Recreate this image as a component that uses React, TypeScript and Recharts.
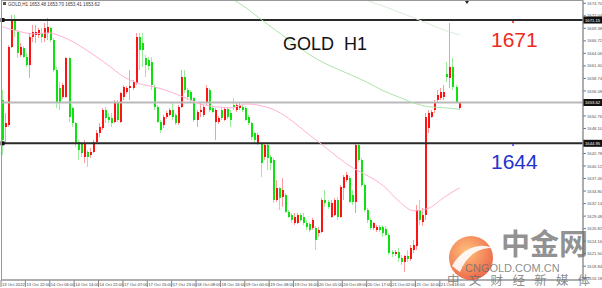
import React from "react";
import { Bar, ComposedChart, Line, ReferenceDot, ReferenceLine, XAxis, YAxis } from "recharts";

// GOLD H1, 13–21 Oct 2022. One row per hourly bar: [open, high, low, close]
const CANDLES: number[][] = [
  [1654.2, 1656.3, 1642.5, 1645.7], [1648.4, 1651.4, 1645.0, 1649.3], [1648.8, 1665.8, 1648.4, 1665.4],
  [1665.4, 1672.2, 1665.2, 1671.2], [1671.2, 1672.2, 1667.5, 1669.0], [1668.6, 1669.0, 1663.1, 1664.1],
  [1663.7, 1666.3, 1663.3, 1665.4], [1665.2, 1665.6, 1663.1, 1663.3], [1663.3, 1664.1, 1661.2, 1661.6],
  [1661.6, 1668.4, 1658.8, 1667.5], [1667.5, 1670.1, 1666.5, 1668.6], [1668.0, 1670.1, 1666.3, 1668.6],
  [1668.0, 1669.5, 1667.3, 1669.0], [1668.4, 1669.5, 1666.3, 1667.5], [1667.3, 1670.5, 1666.5, 1669.5],
  [1668.4, 1671.6, 1666.9, 1669.7], [1669.5, 1669.7, 1666.5, 1666.9], [1666.9, 1667.3, 1660.1, 1660.5],
  [1660.5, 1661.2, 1652.5, 1653.7], [1656.7, 1658.0, 1652.0, 1653.7], [1654.8, 1657.8, 1654.4, 1657.3],
  [1654.8, 1663.3, 1654.6, 1663.1], [1663.1, 1663.3, 1649.5, 1650.5], [1652.5, 1652.7, 1648.4, 1649.3],
  [1649.3, 1649.5, 1644.2, 1645.0], [1645.2, 1645.7, 1641.4, 1643.5], [1645.0, 1645.2, 1642.0, 1642.9],
  [1642.0, 1645.7, 1640.8, 1645.0], [1643.1, 1643.5, 1639.9, 1642.0], [1642.5, 1644.0, 1641.8, 1643.1],
  [1643.1, 1645.7, 1642.9, 1645.2], [1645.2, 1647.8, 1645.0, 1647.1], [1647.1, 1649.3, 1646.3, 1648.4],
  [1648.2, 1652.5, 1647.8, 1652.0], [1652.0, 1652.7, 1649.3, 1650.3], [1650.5, 1651.4, 1649.3, 1649.9],
  [1650.3, 1651.4, 1648.4, 1649.3], [1649.5, 1654.2, 1649.3, 1653.7], [1653.7, 1654.2, 1649.5, 1649.9],
  [1649.5, 1655.9, 1649.3, 1655.6], [1654.8, 1657.3, 1654.2, 1656.9], [1655.9, 1657.1, 1655.4, 1656.7],
  [1656.7, 1660.5, 1654.2, 1657.1], [1656.7, 1658.4, 1656.3, 1658.0], [1657.8, 1668.4, 1657.3, 1667.5],
  [1667.5, 1668.4, 1660.5, 1664.8], [1666.3, 1668.4, 1661.2, 1664.8], [1663.1, 1663.7, 1659.0, 1661.6],
  [1662.7, 1663.3, 1660.5, 1661.4], [1662.2, 1663.3, 1656.3, 1657.3], [1656.9, 1657.3, 1652.0, 1652.7],
  [1652.7, 1653.1, 1649.3, 1649.5], [1649.5, 1649.9, 1647.1, 1647.8], [1648.8, 1651.0, 1648.2, 1650.5],
  [1650.5, 1651.8, 1650.1, 1651.4], [1651.0, 1652.5, 1650.8, 1652.0], [1652.0, 1653.5, 1649.9, 1650.5],
  [1651.0, 1651.4, 1648.8, 1649.3], [1649.3, 1653.1, 1648.8, 1652.7], [1652.7, 1660.5, 1652.5, 1659.0],
  [1659.0, 1660.5, 1655.6, 1656.3], [1656.3, 1656.7, 1654.2, 1654.8], [1655.9, 1656.3, 1653.7, 1654.2],
  [1654.6, 1654.8, 1649.5, 1649.9], [1649.9, 1652.0, 1648.4, 1651.6], [1651.6, 1653.5, 1650.5, 1652.0],
  [1651.0, 1653.1, 1650.5, 1652.7], [1653.5, 1657.3, 1653.1, 1656.7], [1656.3, 1656.7, 1651.6, 1652.0],
  [1652.5, 1652.7, 1651.4, 1651.6], [1649.5, 1652.5, 1645.7, 1652.0], [1649.5, 1650.8, 1649.1, 1650.3],
  [1652.0, 1652.5, 1649.9, 1650.3], [1649.9, 1652.7, 1649.7, 1652.2], [1652.2, 1652.7, 1650.1, 1650.5],
  [1651.4, 1652.0, 1648.4, 1649.9], [1653.1, 1654.6, 1652.0, 1652.7], [1652.0, 1653.5, 1651.6, 1653.1],
  [1652.5, 1653.7, 1652.0, 1653.1], [1652.7, 1653.1, 1651.6, 1652.0], [1652.5, 1652.9, 1649.7, 1649.9],
  [1650.5, 1651.0, 1648.8, 1649.3], [1649.3, 1649.5, 1645.7, 1646.3], [1647.1, 1647.4, 1645.0, 1645.7],
  [1645.0, 1647.1, 1644.6, 1646.7], [1645.0, 1645.2, 1637.8, 1640.8], [1642.0, 1645.0, 1641.4, 1644.6],
  [1644.6, 1645.0, 1639.3, 1641.8], [1642.0, 1642.5, 1639.3, 1640.8], [1641.4, 1641.8, 1632.3, 1632.9],
  [1632.9, 1637.2, 1632.5, 1635.5], [1635.5, 1635.7, 1630.8, 1633.3], [1633.5, 1637.6, 1631.4, 1635.0],
  [1634.0, 1634.4, 1630.1, 1630.4], [1630.4, 1630.8, 1629.1, 1629.3], [1629.7, 1630.1, 1628.0, 1628.7],
  [1628.0, 1630.1, 1627.6, 1629.3], [1628.0, 1630.1, 1627.8, 1629.7], [1629.7, 1630.1, 1628.2, 1628.7],
  [1629.3, 1630.1, 1627.6, 1628.0], [1628.0, 1628.7, 1626.5, 1627.2], [1627.8, 1628.2, 1626.1, 1626.5],
  [1627.0, 1629.1, 1626.5, 1628.7], [1627.0, 1627.4, 1622.3, 1624.4], [1625.9, 1627.2, 1625.0, 1626.5],
  [1626.1, 1633.3, 1625.9, 1632.9], [1632.9, 1635.0, 1631.4, 1632.3], [1632.5, 1632.9, 1631.0, 1631.4],
  [1629.3, 1632.9, 1629.1, 1632.3], [1629.7, 1633.3, 1629.5, 1632.9], [1632.9, 1633.5, 1628.7, 1629.3],
  [1629.3, 1636.1, 1629.1, 1635.7], [1635.5, 1638.2, 1632.9, 1637.8], [1637.2, 1638.9, 1636.7, 1638.2],
  [1637.6, 1638.0, 1632.3, 1632.5], [1634.0, 1635.0, 1631.8, 1632.5], [1632.5, 1645.0, 1630.1, 1644.6],
  [1644.6, 1645.2, 1641.0, 1641.4], [1641.4, 1641.8, 1635.7, 1636.1], [1636.1, 1636.5, 1630.4, 1630.8],
  [1630.8, 1631.2, 1628.0, 1628.7], [1628.7, 1629.1, 1626.5, 1627.0], [1627.0, 1628.2, 1626.5, 1628.0],
  [1626.5, 1627.6, 1626.1, 1627.2], [1627.2, 1627.6, 1626.1, 1626.5], [1627.2, 1627.6, 1625.0, 1625.9],
  [1626.7, 1627.4, 1625.3, 1625.5], [1625.5, 1625.9, 1621.2, 1621.6], [1621.9, 1622.3, 1620.8, 1621.4],
  [1621.4, 1622.3, 1621.0, 1621.9], [1621.9, 1622.7, 1619.7, 1620.6], [1620.6, 1621.2, 1619.1, 1619.7],
  [1619.7, 1621.2, 1617.6, 1621.0], [1621.0, 1622.3, 1619.7, 1620.4], [1620.4, 1623.3, 1619.9, 1622.7],
  [1622.3, 1624.4, 1621.6, 1623.3], [1623.1, 1631.8, 1622.3, 1630.8], [1630.8, 1632.9, 1627.6, 1628.7],
  [1628.2, 1631.2, 1627.4, 1629.7], [1629.7, 1651.4, 1628.7, 1650.5], [1648.2, 1652.0, 1647.1, 1651.4],
  [1650.5, 1652.0, 1650.3, 1651.6], [1652.0, 1654.2, 1651.4, 1653.7], [1654.2, 1656.3, 1653.5, 1655.2],
  [1654.6, 1656.7, 1654.2, 1655.9], [1654.8, 1657.3, 1654.2, 1655.9], [1659.7, 1662.2, 1658.0, 1659.0],
  [1658.8, 1670.5, 1656.7, 1661.2], [1661.2, 1663.1, 1656.3, 1656.9], [1656.9, 1657.3, 1653.5, 1653.7],
  [1652.5, 1653.7, 1652.0, 1653.62],
];

// moving averages, read at every 5th bar
const PINK_AT = [0, 5, 10, 15, 20, 25, 30, 35, 40, 45, 50, 55, 60, 65, 70, 75, 80, 85, 90, 95, 100, 105, 110, 115, 120, 125, 130, 135, 140, 145, 150];
const PINK_MA = [1669.7, 1668.8, 1668.2, 1668.4, 1667.5, 1665.8, 1663.7, 1661.4, 1659.0, 1657.6, 1656.9, 1655.9, 1654.6, 1653.3, 1652.7, 1652.5, 1653.3, 1652.9, 1651.8, 1649.7, 1647.1, 1644.6, 1642.0, 1639.7, 1638.0, 1635.9, 1632.7, 1630.6, 1631.2, 1633.5, 1635.5];
const GREEN_AT = [75, 80, 85, 90, 95, 100, 105, 110, 115, 120, 125, 130, 135, 140, 145, 150];
const GREEN_MA = [1675.8, 1673.7, 1671.2, 1668.8, 1666.5, 1664.1, 1662.2, 1660.7, 1659.3, 1657.8, 1656.1, 1654.8, 1653.5, 1652.7, 1652.5, 1652.2];
const SLOW_AT = [120, 125, 130, 135, 140, 145, 150];
const SLOW_MA = [1675.2, 1674.1, 1672.85, 1671.6, 1670.3, 1669.0, 1668.0];

const TIME_LABELS = [
  "13 Oct 2022", "13 Oct 22:00", "14 Oct 06:00", "14 Oct 14:00", "14 Oct 22:00", "17 Oct 07:00",
  "17 Oct 15:00", "17 Oct 23:00", "18 Oct 08:00", "18 Oct 16:00", "19 Oct 00:00", "19 Oct 08:00",
  "19 Oct 16:00", "20 Oct 01:00", "20 Oct 09:00", "20 Oct 17:00", "21 Oct 02:00", "21 Oct 10:00", "21 Oct 18:00",
];
// grid labels; the two hidden under the black price tags are left out
const PRICE_TICKS = [
  1674.7, 1672.04, 1669.38, 1666.72, 1664.06, 1661.4, 1658.74, 1656.08, 1650.76, 1648.1,
  1642.78, 1640.12, 1637.46, 1634.8, 1632.14, 1629.48, 1626.82, 1624.16, 1621.5, 1618.84, 1616.18,
];

const RESISTANCE = 1671.15;
const SUPPORT = 1644.95;
const LAST = 1653.62;
const TAGS = [RESISTANCE, LAST, SUPPORT];
const SLOTS = 191; // bars plus the empty chart shift on the right

const rows = Array.from({ length: SLOTS }, (_, i) => {
  const c = CANDLES[i];
  const p = PINK_AT.indexOf(i);
  const g = GREEN_AT.indexOf(i);
  const s = SLOW_AT.indexOf(i);
  return {
    i,
    o: c ? c[0] : null,
    h: c ? c[1] : null,
    l: c ? c[2] : null,
    c: c ? c[3] : null,
    pink: p >= 0 ? PINK_MA[p] : null,
    green: g >= 0 ? GREEN_MA[g] : null,
    slow: s >= 0 ? SLOW_MA[s] : null,
  };
});

function Candle(props: any) {
  const { x, y, width, height, payload } = props;
  if (!payload || payload.o == null || !(height > 0)) return null;
  const { o, h, l, c } = payload;
  const k = height / (h - l);
  const cx = Math.round(x + width / 2);
  const yo = y + (h - o) * k;
  const yc = y + (h - c) * k;
  const up = c >= o;
  const top = Math.min(yo, yc);
  const bh = Math.max(1, Math.abs(yo - yc));
  return (
    <g shapeRendering="crispEdges">
      <rect x={cx - 1} y={y} width={1} height={height} fill={up ? "#ff9a9a" : "#9aee9a"} />
      <rect x={cx - 1} y={top} width={2} height={bh} fill={up ? "#ff1212" : "#0fe00f"} />
    </g>
  );
}

function PriceTick({ y, payload }: any) {
  const v = payload.value;
  if (TAGS.includes(v)) {
    return (
      <g>
        <rect x={583} y={y - 3.5} width={19} height={7} fill="#111" />
        <text x={585} y={y + 1.6} fontSize={4.2} fill="#fff" fontFamily="Liberation Sans, Arial">
          {v.toFixed(2)}
        </text>
      </g>
    );
  }
  return (
    <g>
      <line x1={583} x2={586} y1={y} y2={y} stroke="#777" />
      <text x={587} y={y + 1.6} fontSize={4.2} fill="#555" fontFamily="Liberation Sans, Arial">
        {v.toFixed(2)}
      </text>
    </g>
  );
}

function TimeTick({ x, payload }: any) {
  const idx = payload.value / 8;
  const label = TIME_LABELS[idx];
  if (!label) return null;
  const left = x - 1.5;
  return (
    <g>
      <line x1={left} x2={left} y1={280} y2={287} stroke="#888" />
      <text x={left + 1} y={286} fontSize={4.2} fill="#444" fontFamily="Liberation Sans, Arial">
        {label}
      </text>
    </g>
  );
}

const anchor = (p: any) => <rect x={p.cx - 2} y={p.cy - 2} width={4} height={4} fill="#111" />;

export default function App() {
  return (
    <div style={{ position: "fixed", left: 0, top: 0, width: 602, height: 288, background: "#fff", overflow: "hidden" }}>
      <ComposedChart
        width={602}
        height={288}
        data={rows}
        margin={{ top: 1, right: 0, bottom: 0, left: 1 }}
        barCategoryGap={0}
        barGap={0}
      >
        <XAxis
          dataKey="i"
          type="category"
          height={8}
          interval={7}
          tickLine={false}
          axisLine={{ stroke: "#888" }}
          tick={(p: any) => <TimeTick {...p} />}
        />
        <YAxis
          orientation="right"
          width={19}
          domain={[1615.9, 1675.19]}
          allowDataOverflow
          ticks={[...PRICE_TICKS, ...TAGS]}
          interval={0}
          tickLine={false}
          axisLine={{ stroke: "#888" }}
          tick={(p: any) => <PriceTick {...p} />}
        />
        <ReferenceLine y={LAST} stroke="#b9b9b9" strokeWidth={2} />
        <ReferenceLine y={RESISTANCE} stroke="#2a2a2a" strokeWidth={2} />
        <ReferenceLine y={SUPPORT} stroke="#2a2a2a" strokeWidth={2} />
        <ReferenceDot x={0} y={RESISTANCE} shape={anchor} />
        <ReferenceDot x={0} y={SUPPORT} shape={anchor} />
        <Line dataKey="slow" stroke="#d9ecd9" strokeWidth={1} dot={false} connectNulls type="monotone" isAnimationActive={false} />
        <Line dataKey="green" stroke="#abe5ab" strokeWidth={1} dot={false} connectNulls type="monotone" isAnimationActive={false} />
        <Line dataKey="pink" stroke="#ffb0d6" strokeWidth={1} dot={false} connectNulls type="monotone" isAnimationActive={false} />
        <Bar
          dataKey={(d: any) => (d.o == null ? null : [d.l, d.h])}
          barSize={3}
          shape={(p: any) => <Candle {...p} />}
          isAnimationActive={false}
        />
      </ComposedChart>

      {/* frame, header and chart-shift marker */}
      <svg width={602} height={288} style={{ position: "absolute", left: 0, top: 0, pointerEvents: "none" }}>
        <rect x={1.5} y={0.5} width={581.5} height={279.5} fill="none" stroke="#999" />
        <rect x={3} y={2} width={3} height={3} fill="#555" />
        <text x={8} y={5.5} fontSize={4.6} fill="#333" fontFamily="Liberation Sans, Arial">
          GOLD,H1  1653.48 1653.70 1653.41 1653.62
        </text>
        <path d="M465,1 L469,1 L467,4 Z" fill="#222" />
        <rect x={512} y={21} width={2} height={2} fill="#f55" />
        <rect x={512} y={144} width={2} height={2} fill="#66f" />
        <g opacity={0.8}>
          <defs>
            <radialGradient id="lg" cx="0.4" cy="0.35" r="0.7">
              <stop offset="0" stopColor="#ffb15a" />
              <stop offset="1" stopColor="#e8401c" />
            </radialGradient>
          </defs>
          <circle cx={471} cy={258} r={22} fill="url(#lg)" />
          <path d="M452,266 C462,248 480,242 492,248 C478,248 466,256 460,272 Z" fill="#fff" opacity={0.9} />
        </g>
      </svg>

      <div style={{ position: "absolute", left: 283, top: 35, fontFamily: "Liberation Sans, Arial", fontSize: 18, color: "#111", whiteSpace: "pre", lineHeight: 1 }}>
        GOLD  H1
      </div>
      <div style={{ position: "absolute", left: 491, top: 29, fontFamily: "Liberation Sans, Arial", fontSize: 21, color: "#ee2a22", lineHeight: 1 }}>
        1671
      </div>
      <div style={{ position: "absolute", left: 491, top: 151, fontFamily: "Liberation Sans, Arial", fontSize: 21, color: "#2233d0", lineHeight: 1 }}>
        1644
      </div>

      <div style={{ position: "absolute", left: 501, top: 228, fontFamily: "Noto Sans CJK SC", fontWeight: 700, fontSize: 29, color: "rgba(110,110,110,0.75)", lineHeight: 1 }}>
        中金网
      </div>
      <div style={{ position: "absolute", left: 465, top: 263, fontFamily: "Liberation Sans, Arial", fontSize: 11, color: "rgba(110,110,110,0.8)", lineHeight: 1 }}>
        CNGOLD.COM.CN
      </div>
      <div style={{ position: "absolute", left: 447, top: 274, fontFamily: "Noto Sans CJK SC", fontSize: 12.5, letterSpacing: 9.3, color: "rgba(110,110,110,0.8)", lineHeight: 1, whiteSpace: "nowrap" }}>
        中文财经新媒体
      </div>
    </div>
  );
}
